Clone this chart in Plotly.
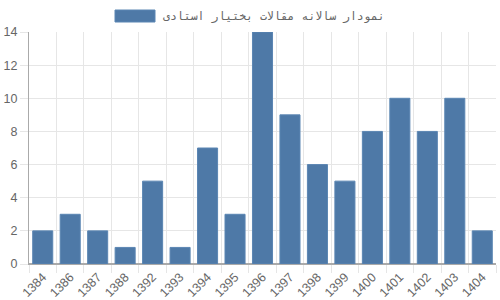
import plotly.graph_objects as go

years = ["1384", "1386", "1387", "1388", "1392", "1393", "1394", "1395", "1396",
         "1397", "1398", "1399", "1400", "1401", "1402", "1403", "1404"]
counts = [2, 3, 2, 1, 5, 1, 7, 3, 14, 9, 6, 5, 8, 10, 8, 10, 2]
series_name = "نمودار سالانه مقالات بختیار استادی"

W, H = 500, 300
L, R, T, B = 29, 4, 32, 36
pw, ph = W - L - R, H - T - B

def px(x):
    return (x - L) / pw

def py(y):
    return (H - B - y) / ph

bar_color = "#4e79a7"

fig = go.Figure()
fig.add_trace(go.Bar(
    x=years, y=counts, name=series_name,
    marker=dict(color=bar_color, line=dict(color="#5b86b3", width=1)),
    showlegend=False,
))

# legend (Chart.js style: wide swatch + label)
fig.add_shape(type="rect", xref="paper", yref="paper",
              x0=px(115), x1=px(155), y0=py(22), y1=py(10),
              fillcolor=bar_color, line=dict(color="#5b86b3", width=1))
fig.add_annotation(xref="paper", yref="paper", x=px(161), y=py(16),
                   xanchor="left", yanchor="middle", showarrow=False,
                   text=series_name,
                   font=dict(family="DejaVu Sans Mono", size=11.5, color="#666"))

grid = "#e6e6e6"
fig.update_layout(
    width=W, height=H,
    margin=dict(l=L, r=R, t=T, b=B),
    paper_bgcolor="white", plot_bgcolor="white",
    font=dict(family="Liberation Sans, Arial, DejaVu Sans", size=12, color="#666"),
    bargap=0.27,
    showlegend=False,
    xaxis=dict(type="category", tickson="boundaries", showgrid=True, gridcolor=grid,
               ticks="outside", ticklen=8, tickcolor=grid, tickangle=-45,
               showline=True, linecolor="#aaa", automargin=False,
               tickfont=dict(size=12.5, color="#666")),
    yaxis=dict(range=[0, 14], dtick=2, showgrid=True, gridcolor=grid,
               ticks="outside", ticklen=8, tickcolor=grid, automargin=False,
               showline=True, linecolor="#aaa", zeroline=True, zerolinecolor="#aaa",
               tickfont=dict(size=12.5, color="#666")),
)
fig.write_html("out.html")
